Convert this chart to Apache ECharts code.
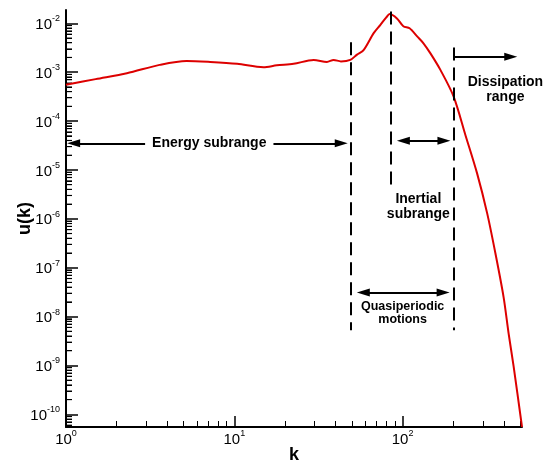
<!DOCTYPE html>
<html>
<head>
<meta charset="utf-8">
<script src="https://cdn.jsdelivr.net/npm/echarts@6/dist/echarts.min.js"></script>
<style>
html, body { margin: 0; padding: 0; background: #fff; }
#chart { width: 553px; height: 463px; }
</style>
</head>
<body>
<div id="chart"></div>
<script>
// spectrum u(k)
var kValues = [1.0, 1.5, 2.3, 3.6, 5.2, 7.2, 10.4, 14.9, 17.9, 22.5, 29.6, 35.5, 38.9, 43, 48.9,
  53.6, 58.6, 67.3, 73.8, 80, 83.7, 92.5, 101, 110, 122, 133, 146, 168, 201, 236, 277, 318,
  356, 398, 426, 457, 512];
var uValues = [5.5e-4, 7.2e-4, 9.5e-4, 1.41e-3, 1.70e-3, 1.62e-3, 1.48e-3, 1.26e-3, 1.38e-3,
  1.48e-3, 1.78e-3, 1.62e-3, 1.78e-3, 1.66e-3, 1.78e-3, 2.29e-3, 2.82e-3, 6.3e-3, 9.3e-3,
  1.32e-2, 1.55e-2, 1.26e-2, 8.7e-3, 7.9e-3, 5.4e-3, 3.9e-3, 2.45e-3, 1.10e-3, 3.16e-4,
  5.2e-5, 8.5e-6, 1.29e-6, 1.95e-7, 2.5e-8, 4.6e-9, 9.3e-10, 5.5e-11];

var xMajorTicks = [1, 10, 100];
var yMajorTicks = [1e-10, 1e-9, 1e-8, 1e-7, 1e-6, 1e-5, 1e-4, 1e-3, 1e-2];
var mantissas = [2, 3, 4, 5, 6, 7, 8, 9];
var xDecades = [1, 10, 100];
var yDecades = [1e-11, 1e-10, 1e-9, 1e-8, 1e-7, 1e-6, 1e-5, 1e-4, 1e-3, 1e-2];

var xMin = 1, xMax = 512;
var yMin = 5.5e-11, yMax = 0.0187;

function minorTicks(decades, lo, hi) {
  var out = [];
  decades.forEach(function (d) {
    mantissas.forEach(function (m) {
      var v = m * d;
      if (v > lo && v < hi) out.push(v);
    });
  });
  return out;
}

var font = '"Liberation Sans", Arial, Helvetica, sans-serif';

function powLabel(v) {
  var e = Math.round(Math.log10(v));
  return '{b|10}{s|' + e + '}';
}
var labelRich = {
  b: { fontSize: 15, color: '#000', fontFamily: font, verticalAlign: 'bottom', lineHeight: 18 },
  s: { fontSize: 9, color: '#000', fontFamily: font, verticalAlign: 'top', lineHeight: 18 }
};

var dashed = { color: '#000', width: 2, type: [13, 7] };
var arrowLine = { color: '#000', width: 2, type: 'solid' };

var gridLeft = 66, gridRight = 31;
var plotWidth = 553 - gridLeft - gridRight;

var myChart = echarts.init(document.getElementById('chart'));
var option = {
  animation: false,
  textStyle: { fontFamily: font },
  grid: { left: gridLeft, right: gridRight, top: 10, bottom: 36, outerBoundsMode: 'none', containLabel: false },
  xAxis: [
    {
      type: 'log', min: xMin, max: xMax,
      name: 'k', nameLocation: 'middle', nameGap: 19, nameMoveOverlap: false,
      nameTextStyle: { fontSize: 18, fontWeight: 'bold', color: '#000', fontFamily: font },
      axisLine: { show: true, lineStyle: { color: '#000', width: 2 } },
      axisTick: { show: true, inside: true, length: 11, lineStyle: { color: '#000', width: 1.5 }, customValues: xMajorTicks },
      axisLabel: { margin: 2, formatter: powLabel, rich: labelRich, customValues: xMajorTicks },
      splitLine: { show: false }
    },
    {
      type: 'log', min: xMin, max: xMax, position: 'bottom',
      axisLine: { show: false },
      axisTick: { show: true, inside: true, length: 6, lineStyle: { color: '#000', width: 1 }, customValues: minorTicks(xDecades, xMin, xMax) },
      axisLabel: { show: false },
      splitLine: { show: false }
    }
  ],
  yAxis: [
    {
      type: 'log', min: yMin, max: yMax,
      name: 'u(k)', nameLocation: 'middle', nameGap: 32, nameMoveOverlap: false,
      nameTextStyle: { fontSize: 18, fontWeight: 'bold', color: '#000', fontFamily: font },
      axisLine: { show: true, lineStyle: { color: '#000', width: 2 } },
      axisTick: { show: true, inside: true, length: 12, lineStyle: { color: '#000', width: 1.5 }, customValues: yMajorTicks },
      axisLabel: { margin: 6, formatter: powLabel, rich: labelRich, customValues: yMajorTicks },
      splitLine: { show: false }
    },
    {
      // minor ticks: a right-side axis pulled back onto the left edge
      type: 'log', min: yMin, max: yMax, position: 'right', offset: -plotWidth,
      axisLine: { show: false },
      axisTick: { show: true, inside: false, length: 6, lineStyle: { color: '#000', width: 1 }, customValues: minorTicks(yDecades, yMin, yMax) },
      axisLabel: { show: false },
      splitLine: { show: false }
    }
  ],
  series: [
    {
      type: 'line',
      data: kValues.map(function (k, i) { return [k, uValues[i]]; }),
      showSymbol: false,
      smooth: 0.3,
      lineStyle: { color: '#dd0000', width: 2 },
      z: 3
    },
    {
      // the same minor ticks as small marks on the left axis
      type: 'scatter',
      silent: true,
      clip: false,
      symbol: 'rect',
      symbolSize: [6, 1.2],
      symbolOffset: [3, 0],
      itemStyle: { color: '#000' },
      data: minorTicks(yDecades, yMin, yMax).map(function (v) { return [xMin, v]; }),
      z: 2
    },
    {
      type: 'line',
      data: [],
      markLine: {
        silent: true,
        symbol: 'none',
        label: { show: false },
        data: [
          [{ coord: [49, 4.08e-3], lineStyle: dashed }, { coord: [49, 5.25e-9] }],
          [{ coord: [85, 1.74e-2], lineStyle: dashed }, { coord: [85, 4.9e-6] }],
          [{ coord: [201, 3.2e-3], lineStyle: dashed }, { coord: [201, 5.25e-9] }],
          [{ coord: [1.11, 3.5e-5], lineStyle: arrowLine, symbol: 'triangle', symbolSize: [8, 13] },
           { coord: [43.2, 3.5e-5], symbol: 'triangle', symbolSize: [8, 13] }],
          [{ coord: [101, 3.94e-5], lineStyle: arrowLine, symbol: 'triangle', symbolSize: [8, 13] },
           { coord: [176, 3.94e-5], symbol: 'triangle', symbolSize: [8, 13] }],
          [{ coord: [58.4, 3.1e-8], lineStyle: arrowLine, symbol: 'triangle', symbolSize: [8, 13] },
           { coord: [174, 3.1e-8], symbol: 'triangle', symbolSize: [8, 13] }],
          [{ coord: [201, 2.07e-3], lineStyle: arrowLine, symbol: 'none' },
           { coord: [439, 2.07e-3], symbol: 'triangle', symbolSize: [8, 13] }]
        ]
      },
      z: 4
    },
    {
      type: 'line',
      data: [],
      markPoint: {
        silent: true,
        symbol: 'rect',
        symbolSize: 0,
        label: { show: true, position: 'inside', color: '#000', fontWeight: 'bold', fontFamily: font, fontSize: 14, align: 'center', verticalAlign: 'middle' },
        data: [
          { coord: [7.1, 3.5e-5], label: { formatter: 'Energy subrange', backgroundColor: '#fff', padding: [2, 7] } },
          { coord: [408, 4.4e-4], label: { formatter: 'Dissipation\nrange', lineHeight: 15.6 } },
          { coord: [124, 1.76e-6], label: { formatter: 'Inertial\nsubrange', lineHeight: 14.7 } },
          { coord: [100, 1.19e-8], label: { formatter: 'Quasiperiodic\nmotions', fontSize: 12.5, lineHeight: 13.3 } }
        ]
      },
      z: 5
    }
  ]
};
myChart.setOption(option);
</script>
</body>
</html>
